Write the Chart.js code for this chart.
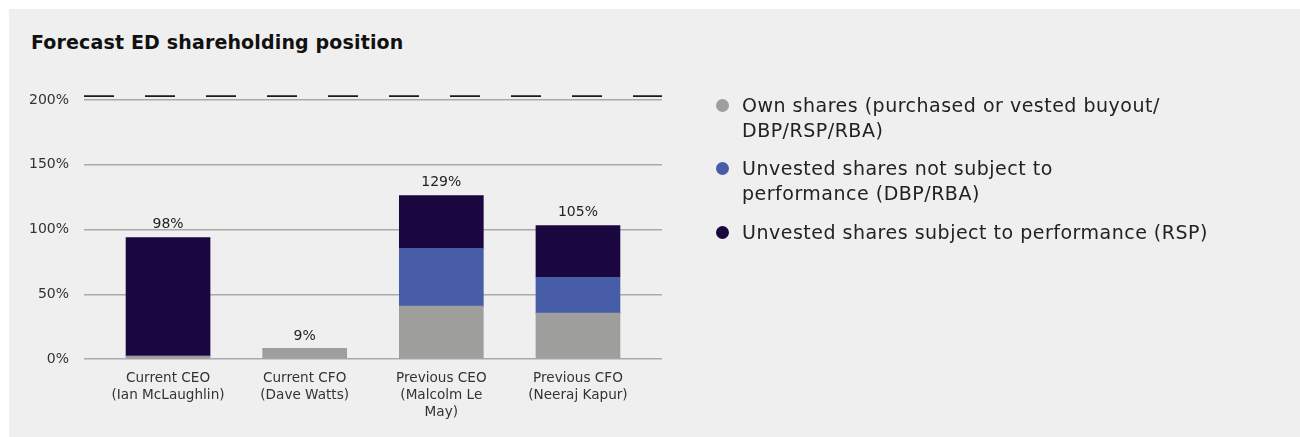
<!DOCTYPE html>
<html>
<head>
<meta charset="utf-8">
<script src="https://cdn.jsdelivr.net/npm/chart.js@4.4.1/dist/chart.umd.min.js"></script>
<style>
  html, body { margin: 0; padding: 0; background: #ffffff; width: 1300px; height: 437px; overflow: hidden; }
  #panel { position: absolute; left: 9px; top: 9px; width: 1291px; height: 428px; background: #efefef; }
  #title { position: absolute; left: 31px; top: 31px; font-family: "DejaVu Sans", sans-serif; font-weight: 700; font-size: 19px; letter-spacing: 0.15px; color: #111; white-space: nowrap; }
  #wrap { position: absolute; left: 0; top: 0; width: 1300px; height: 437px; }
  #legend { position: absolute; left: 716px; top: 92.5px; font-family: "DejaVu Sans", sans-serif; font-size: 19px; letter-spacing: 0.5px; color: #222; }
  .item { position: relative; padding-left: 26px; line-height: 25px; margin-bottom: 13.5px; white-space: nowrap; }
  .dot { position: absolute; left: 0; top: 6px; width: 13px; height: 13px; border-radius: 50%; }
</style>
</head>
<body>
<div id="panel"></div>
<div id="title">Forecast ED shareholding position</div>
<div id="wrap"><canvas id="c" width="1300" height="437"></canvas></div>
<div id="legend"></div>
<script>
// ---- data ----
const categories = [
  ["Current CEO", "(Ian McLaughlin)"],
  ["Current CFO", "(Dave Watts)"],
  ["Previous CEO", "(Malcolm Le", "May)"],
  ["Previous CFO", "(Neeraj Kapur)"]
];
const seriesNames = [
  "Own shares (purchased or vested buyout/\nDBP/RSP/RBA)",
  "Unvested shares not subject to\nperformance (DBP/RBA)",
  "Unvested shares subject to performance (RSP)"
];
const ownShares = [2.3, 7.7, 40.8, 35.4];
const unvestedNotPerf = [0, 0, 44.6, 27.7];
const unvestedPerf = [91.5, 0, 40.8, 40.0];
const totalLabels = ["98%", "9%", "129%", "105%"];
const requirementLevel = [203, 203];
const yTicks = [0, 50, 100, 150, 200];
const seriesColors = ["#9e9e9d", "#475da8", "#1b0740"];

// ---- layout ----
const X_MIN = -0.615, X_MAX = 3.615;
const FONT = '"DejaVu Sans", sans-serif';

const pts = arr => arr.map((v, i) => ({ x: i, y: v }));

const totalsPlugin = {
  id: 'totals',
  afterDatasetsDraw(chart) {
    const ctx = chart.ctx;
    ctx.save();
    ctx.font = '14px ' + FONT;
    ctx.fillStyle = '#222';
    ctx.textAlign = 'center';
    ctx.textBaseline = 'middle';
    categories.forEach((_, i) => {
      let topY = null, cx = null;
      for (let d = 0; d < 3; d++) {
        const meta = chart.getDatasetMeta(d);
        const el = meta.data[i];
        const val = chart.data.datasets[d].data[i].y;
        if (el && val > 0) {
          if (topY === null || el.y < topY) { topY = el.y; cx = el.x; }
        }
      }
      if (topY !== null) ctx.fillText(totalLabels[i], cx, topY - 13);
    });
    ctx.restore();
  }
};

new Chart(document.getElementById('c'), {
  type: 'bar',
  data: {
    datasets: [
      { label: seriesNames[0], data: pts(ownShares), backgroundColor: seriesColors[0], barThickness: 84, stack: 's' },
      { label: seriesNames[1], data: pts(unvestedNotPerf), backgroundColor: seriesColors[1], barThickness: 84, stack: 's' },
      { label: seriesNames[2], data: pts(unvestedPerf), backgroundColor: seriesColors[2], barThickness: 84, stack: 's' },
      { type: 'line', label: 'Requirement', data: [{ x: X_MIN, y: requirementLevel[0] }, { x: X_MAX, y: requirementLevel[1] }],
        borderColor: '#1a1a1a', borderWidth: 1.8, borderDash: [30, 31], pointRadius: 0, clip: false, stack: 'req' }
    ]
  },
  options: {
    responsive: false,
    animation: false,
    layout: { padding: { left: 0, top: 100, right: 638, bottom: 0 } },
    plugins: { legend: { display: false }, tooltip: { enabled: false } },
    scales: {
      x: {
        type: 'linear', min: X_MIN, max: X_MAX, stacked: true, offset: false,
        grid: { display: false },
        border: { display: false },
        afterBuildTicks: s => { s.ticks = categories.map((_, i) => ({ value: i })); },
        afterFit: s => { s.height = 78; },
        ticks: {
          autoSkip: false, maxRotation: 0, padding: 3,
          color: '#333',
          font: { family: FONT, size: 13.6, lineHeight: 1.25 },
          callback: v => categories[v] || ''
        }
      },
      y: {
        min: 0, max: 200, stacked: true,
        afterBuildTicks: s => { s.ticks = yTicks.map(v => ({ value: v })); },
        afterFit: s => { s.width = 84; },
        grid: { color: '#aaaaaa', lineWidth: 1.5, drawTicks: false },
        border: { display: false },
        ticks: {
          padding: 15, color: '#333',
          font: { family: FONT, size: 14 },
          callback: v => v + '%'
        }
      }
    }
  },
  plugins: [totalsPlugin]
});

// HTML legend
const lg = document.getElementById('legend');
seriesNames.forEach((n, i) => {
  const d = document.createElement('div');
  d.className = 'item';
  const dot = document.createElement('span');
  dot.className = 'dot';
  dot.style.background = seriesColors[i];
  d.appendChild(dot);
  n.split('\n').forEach((line, k) => {
    if (k) d.appendChild(document.createElement('br'));
    d.appendChild(document.createTextNode(line));
  });
  lg.appendChild(d);
});
</script>
</body>
</html>
